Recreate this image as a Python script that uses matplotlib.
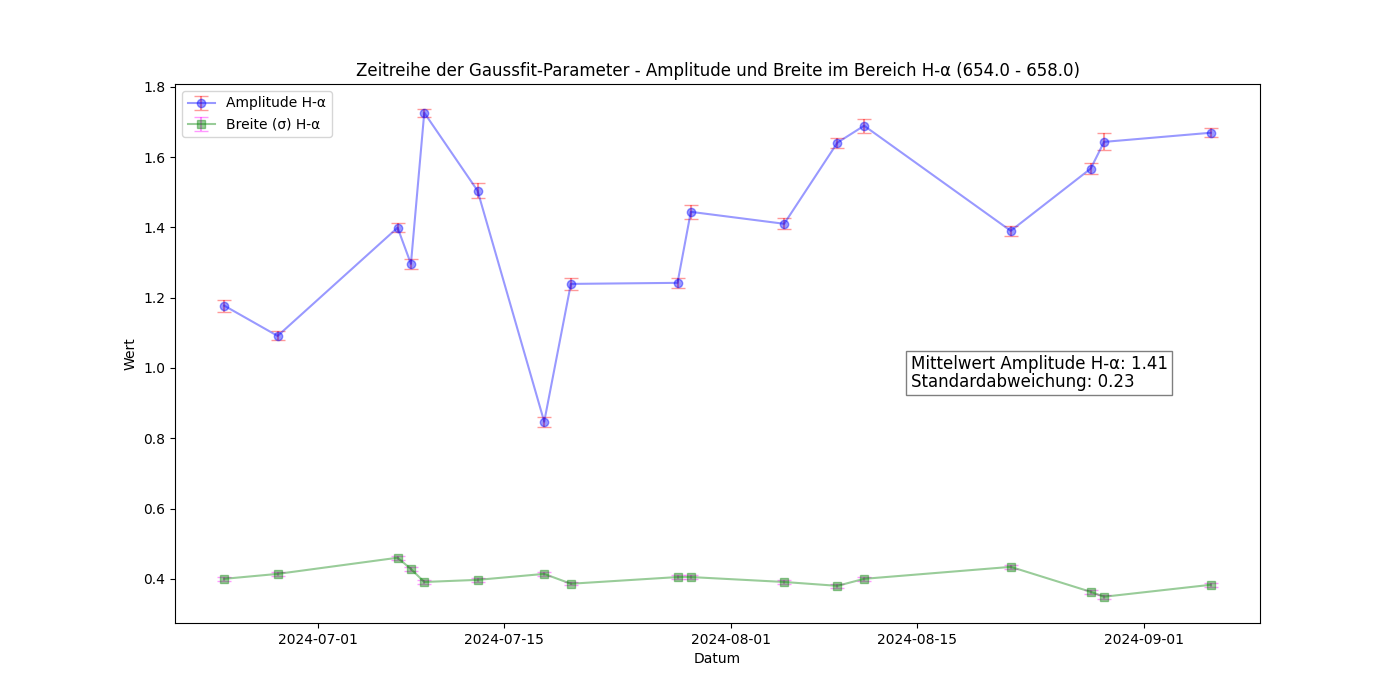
import matplotlib
matplotlib.use('Agg')
import matplotlib.pyplot as plt
import numpy as np
import pandas as pd

# observation dates
dates = pd.to_datetime([
    '2024-06-24', '2024-06-28', '2024-07-07', '2024-07-08', '2024-07-09',
    '2024-07-13', '2024-07-18', '2024-07-20', '2024-07-28', '2024-07-29',
    '2024-08-05', '2024-08-09', '2024-08-11', '2024-08-22', '2024-08-28',
    '2024-08-29', '2024-09-06'])

amplitude = [1.177, 1.091, 1.399, 1.296, 1.726, 1.504, 0.847, 1.239, 1.242,
             1.444, 1.410, 1.641, 1.689, 1.390, 1.567, 1.643, 1.669]
amplitude_err = [0.017, 0.013, 0.013, 0.014, 0.012, 0.022, 0.014, 0.018, 0.014,
                 0.020, 0.016, 0.014, 0.020, 0.014, 0.016, 0.024, 0.013]

breite = [0.400, 0.414, 0.460, 0.428, 0.391, 0.397, 0.414, 0.386, 0.405,
          0.405, 0.391, 0.380, 0.400, 0.434, 0.363, 0.349, 0.383]
breite_err = [0.005, 0.005, 0.006, 0.006, 0.005, 0.005, 0.005, 0.005, 0.005,
              0.005, 0.005, 0.005, 0.005, 0.005, 0.005, 0.005, 0.005]

line_name = 'H-α'
mean_amp = 1.41
std_amp = 0.23

fig, ax = plt.subplots(figsize=(14, 7), dpi=100)

ax.errorbar(dates, amplitude, yerr=amplitude_err, fmt='-o', color='blue',
            ecolor='red', alpha=0.4, capsize=5, label=f'Amplitude {line_name}')
ax.errorbar(dates, breite, yerr=breite_err, fmt='-s', color='green',
            ecolor='magenta', alpha=0.4, capsize=5, label=f'Breite (σ) {line_name}')

ax.set_title(f'Zeitreihe der Gaussfit-Parameter - Amplitude und Breite im Bereich {line_name} (654.0 - 658.0)')
ax.set_xlabel('Datum')
ax.set_ylabel('Wert')
ax.legend(loc='upper left')

# statistics box
ax.text(0.678, 0.497, f'Mittelwert Amplitude {line_name}: {mean_amp:.2f}\nStandardabweichung: {std_amp:.2f}',
        transform=ax.transAxes, fontsize=12, va='top', linespacing=1.0,
        bbox=dict(facecolor='white', alpha=0.5, pad=3))

plt.savefig('out.png')
